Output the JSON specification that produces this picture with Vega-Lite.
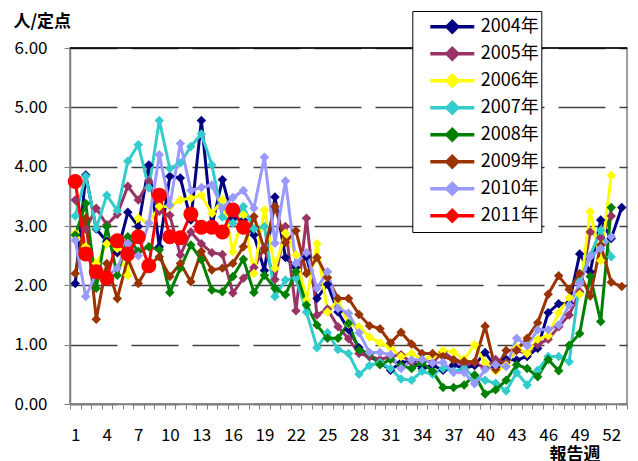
{
  "$schema": "https://vega.github.io/schema/vega-lite/v6.json",
  "width": 557,
  "height": 356,
  "autosize": {"type": "none"},
  "padding": {"left": 70, "top": 48, "right": 11, "bottom": 57},
  "background": "white",
  "config": {
    "view": {"stroke": "#808080", "strokeWidth": 1.5},
    "font": "Noto Sans CJK JP"
  },
  "title": {"text": "水痘", "fontSize": 24, "font": "Noto Sans CJK JP", "fontWeight": "normal", "offset": 34, "dx": -7, "color": "black"},
  "datasets": {
    "weeks": [
      {"w": 1, "y2004": 2.03, "y2005": 3.44, "y2006": 2.88, "y2007": 3.17, "y2008": 2.85, "y2009": 2.2, "y2010": 2.76, "y2011": 3.75},
      {"w": 2, "y2004": 3.86, "y2005": 2.95, "y2006": 2.65, "y2007": 3.84, "y2008": 3.38, "y2009": 3.13, "y2010": 1.81, "y2011": 2.53},
      {"w": 3, "y2004": 2.95, "y2005": 3.3, "y2006": 2.37, "y2007": 2.96, "y2008": 1.95, "y2009": 1.43, "y2010": 2.2, "y2011": 2.23},
      {"w": 4, "y2004": 2.74, "y2005": 3.02, "y2006": 2.7, "y2007": 3.52, "y2008": 2.99, "y2009": 2.37, "y2010": 2.15, "y2011": 2.12},
      {"w": 5, "y2004": 2.55, "y2005": 3.2, "y2006": 2.62, "y2007": 3.26, "y2008": 2.17, "y2009": 1.78, "y2010": 2.29, "y2011": 2.75},
      {"w": 6, "y2004": 3.23, "y2005": 3.67, "y2006": 2.17, "y2007": 4.09, "y2008": 2.82, "y2009": 2.45, "y2010": 2.71, "y2011": 2.53},
      {"w": 7, "y2004": 2.99, "y2005": 3.44, "y2006": 3.13, "y2007": 4.37, "y2008": 2.57, "y2009": 2.03, "y2010": 2.5, "y2011": 2.82},
      {"w": 8, "y2004": 4.03, "y2005": 3.75, "y2006": 3.05, "y2007": 3.64, "y2008": 2.65, "y2009": 2.34, "y2010": 3.05, "y2011": 2.33},
      {"w": 9, "y2004": 2.65, "y2005": 3.25, "y2006": 3.33, "y2007": 4.78, "y2008": 2.6, "y2009": 2.48, "y2010": 4.2, "y2011": 3.52},
      {"w": 10, "y2004": 3.84, "y2005": 3.18, "y2006": 3.33, "y2007": 3.97, "y2008": 1.88, "y2009": 2.15, "y2010": 3.35, "y2011": 2.82},
      {"w": 11, "y2004": 3.81, "y2005": 2.51, "y2006": 3.44, "y2007": 4.06, "y2008": 2.29, "y2009": 2.37, "y2010": 4.39, "y2011": 2.8},
      {"w": 12, "y2004": 3.1, "y2005": 2.9, "y2006": 3.47, "y2007": 4.34, "y2008": 2.68, "y2009": 2.06, "y2010": 3.6, "y2011": 3.2},
      {"w": 13, "y2004": 4.78, "y2005": 2.7, "y2006": 3.52, "y2007": 4.55, "y2008": 2.43, "y2009": 2.57, "y2010": 3.65, "y2011": 2.98},
      {"w": 14, "y2004": 3.0, "y2005": 2.55, "y2006": 3.21, "y2007": 4.03, "y2008": 1.92, "y2009": 2.26, "y2010": 3.69, "y2011": 2.98},
      {"w": 15, "y2004": 3.78, "y2005": 2.52, "y2006": 3.44, "y2007": 3.15, "y2008": 1.89, "y2009": 2.29, "y2010": 3.3, "y2011": 2.9},
      {"w": 16, "y2004": 3.13, "y2005": 1.87, "y2006": 2.57, "y2007": 3.05, "y2008": 2.15, "y2009": 2.37, "y2010": 3.48, "y2011": 3.27},
      {"w": 17, "y2004": 3.1, "y2005": 2.12, "y2006": 3.19, "y2007": 3.33, "y2008": 2.44, "y2009": 2.65, "y2010": 3.6, "y2011": 2.98},
      {"w": 18, "y2004": 2.85, "y2005": 2.3, "y2006": 2.2, "y2007": 2.95, "y2008": 1.88, "y2009": 3.16, "y2010": 3.3},
      {"w": 19, "y2004": 2.25, "y2005": 2.63, "y2006": 3.27, "y2007": 2.99, "y2008": 2.17, "y2009": 2.6, "y2010": 4.16},
      {"w": 20, "y2004": 3.49, "y2005": 2.1, "y2006": 2.29, "y2007": 1.81, "y2008": 1.95, "y2009": 3.33, "y2010": 2.71},
      {"w": 21, "y2004": 2.47, "y2005": 2.99, "y2006": 2.88, "y2007": 2.09, "y2008": 1.84, "y2009": 2.72, "y2010": 3.76},
      {"w": 22, "y2004": 2.3, "y2005": 1.57, "y2006": 2.51, "y2007": 2.12, "y2008": 2.23, "y2009": 2.92, "y2010": 2.37},
      {"w": 23, "y2004": 2.48, "y2005": 3.13, "y2006": 1.75, "y2007": 1.55, "y2008": 1.67, "y2009": 2.2, "y2010": 2.55},
      {"w": 24, "y2004": 1.78, "y2005": 1.5, "y2006": 2.7, "y2007": 0.95, "y2008": 1.33, "y2009": 2.47, "y2010": 1.95},
      {"w": 25, "y2004": 2.02, "y2005": 1.6, "y2006": 1.55, "y2007": 1.2, "y2008": 1.11, "y2009": 2.13, "y2010": 2.23},
      {"w": 26, "y2004": 1.55, "y2005": 1.3, "y2006": 1.75, "y2007": 0.92, "y2008": 1.11, "y2009": 1.78, "y2010": 1.61},
      {"w": 27, "y2004": 1.25, "y2005": 1.1, "y2006": 1.35, "y2007": 0.85, "y2008": 1.36, "y2009": 1.78, "y2010": 1.53},
      {"w": 28, "y2004": 0.95, "y2005": 0.85, "y2006": 1.3, "y2007": 0.5, "y2008": 0.91, "y2009": 1.51, "y2010": 1.2},
      {"w": 29, "y2004": 0.8, "y2005": 0.8, "y2006": 1.13, "y2007": 0.65, "y2008": 0.85, "y2009": 1.32, "y2010": 0.87},
      {"w": 30, "y2004": 0.7, "y2005": 0.75, "y2006": 1.03, "y2007": 0.7, "y2008": 0.66, "y2009": 1.27, "y2010": 0.87},
      {"w": 31, "y2004": 0.57, "y2005": 0.8, "y2006": 0.95, "y2007": 0.6, "y2008": 0.75, "y2009": 1.03, "y2010": 0.83},
      {"w": 32, "y2004": 0.7, "y2005": 0.83, "y2006": 0.8, "y2007": 0.42, "y2008": 0.65, "y2009": 1.21, "y2010": 0.6},
      {"w": 33, "y2004": 0.72, "y2005": 0.7, "y2006": 0.85, "y2007": 0.4, "y2008": 0.6, "y2009": 1.01, "y2010": 0.74},
      {"w": 34, "y2004": 0.6, "y2005": 0.75, "y2006": 0.75, "y2007": 0.55, "y2008": 0.7, "y2009": 0.85, "y2010": 0.75},
      {"w": 35, "y2004": 0.65, "y2005": 0.7, "y2006": 0.8, "y2007": 0.5, "y2008": 0.55, "y2009": 0.85, "y2010": 0.69},
      {"w": 36, "y2004": 0.57, "y2005": 0.88, "y2006": 0.9, "y2007": 0.6, "y2008": 0.28, "y2009": 0.8, "y2010": 0.7},
      {"w": 37, "y2004": 0.66, "y2005": 0.75, "y2006": 0.88, "y2007": 0.55, "y2008": 0.28, "y2009": 0.74, "y2010": 0.53},
      {"w": 38, "y2004": 0.6, "y2005": 0.65, "y2006": 0.75, "y2007": 0.6, "y2008": 0.32, "y2009": 0.72, "y2010": 0.53},
      {"w": 39, "y2004": 0.65, "y2005": 0.7, "y2006": 1.0, "y2007": 0.45, "y2008": 0.49, "y2009": 0.71, "y2010": 0.34},
      {"w": 40, "y2004": 0.87, "y2005": 0.6, "y2006": 0.7, "y2007": 0.4, "y2008": 0.17, "y2009": 1.31, "y2010": 0.58},
      {"w": 41, "y2004": 0.62, "y2005": 0.75, "y2006": 0.55, "y2007": 0.35, "y2008": 0.24, "y2009": 0.58, "y2010": 0.66},
      {"w": 42, "y2004": 0.75, "y2005": 0.7, "y2006": 0.65, "y2007": 0.22, "y2008": 0.4, "y2009": 0.9, "y2010": 0.63},
      {"w": 43, "y2004": 0.74, "y2005": 0.9, "y2006": 0.95, "y2007": 0.53, "y2008": 0.66, "y2009": 0.91, "y2010": 1.11},
      {"w": 44, "y2004": 0.8, "y2005": 0.85, "y2006": 0.85, "y2007": 0.32, "y2008": 0.6, "y2009": 1.11, "y2010": 0.98},
      {"w": 45, "y2004": 0.94, "y2005": 1.0, "y2006": 1.09, "y2007": 0.57, "y2008": 0.46, "y2009": 1.37, "y2010": 1.25},
      {"w": 46, "y2004": 1.54, "y2005": 1.09, "y2006": 1.15, "y2007": 0.8, "y2008": 0.75, "y2009": 1.85, "y2010": 1.25},
      {"w": 47, "y2004": 1.69, "y2005": 1.3, "y2006": 1.54, "y2007": 0.8, "y2008": 0.56, "y2009": 2.16, "y2010": 1.33},
      {"w": 48, "y2004": 1.7, "y2005": 1.5, "y2006": 1.79, "y2007": 0.71, "y2008": 0.99, "y2009": 1.93, "y2010": 1.67},
      {"w": 49, "y2004": 2.53, "y2005": 1.89, "y2006": 1.85, "y2007": 2.07, "y2008": 1.19, "y2009": 2.2, "y2010": 2.03},
      {"w": 50, "y2004": 2.23, "y2005": 2.9, "y2006": 3.24, "y2007": 2.5, "y2008": 2.15, "y2009": 1.82, "y2010": 2.48},
      {"w": 51, "y2004": 3.1, "y2005": 2.8, "y2006": 2.42, "y2007": 2.93, "y2008": 1.39, "y2009": 2.68, "y2010": 2.62},
      {"w": 52, "y2004": 2.79, "y2005": 3.17, "y2006": 3.85, "y2007": 2.48, "y2008": 3.31, "y2009": 2.05, "y2010": 2.82},
      {"w": 53, "y2004": 3.31, "y2009": 1.98}
    ],
    "top": [{"v": 6}]
  },
  "layer": [
    {
      "data": {"name": "weeks"},
      "transform": [
        {"fold": ["y2004", "y2005", "y2006", "y2007", "y2008", "y2009", "y2010", "y2011"], "as": ["year", "v"]},
        {"filter": "isValid(datum.v)"}
      ],
      "mark": {"type": "line", "strokeWidth": 3},
      "encoding": {
        "x": {
          "field": "w",
          "type": "quantitative",
          "scale": {"domain": [0.5, 53.5], "nice": false, "zero": false},
          "axis": {
            "orient": "bottom",
            "values": [0.5, 1.5, 2.5, 3.5, 4.5, 5.5, 6.5, 7.5, 8.5, 9.5, 10.5, 11.5, 12.5, 13.5, 14.5, 15.5, 16.5, 17.5, 18.5, 19.5, 20.5, 21.5, 22.5, 23.5, 24.5, 25.5, 26.5, 27.5, 28.5, 29.5, 30.5, 31.5, 32.5, 33.5, 34.5, 35.5, 36.5, 37.5, 38.5, 39.5, 40.5, 41.5, 42.5, 43.5, 44.5, 45.5, 46.5, 47.5, 48.5, 49.5, 50.5, 51.5, 52.5, 53.5],
            "labels": false,
            "grid": false,
            "domainColor": "#808080",
            "domainWidth": 1.5,
            "tickColor": "#808080",
            "tickSize": 5,
            "title": null
          }
        },
        "y": {
          "field": "v",
          "type": "quantitative",
          "scale": {"domain": [0, 6], "nice": false},
          "axis": {
            "values": [0, 1, 2, 3, 4, 5, 6],
            "format": ".2f",
            "grid": true,
            "gridDash": [47, 14],
            "gridColor": "#404040",
            "gridWidth": 1.5,
            "domainColor": "#808080",
            "domainWidth": 1.5,
            "tickColor": "#808080",
            "tickSize": 6,
            "labelFontSize": 17,
            "labelFont": "Noto Sans CJK JP",
            "labelColor": "black",
            "labelPadding": 17,
            "title": "人/定点",
            "titleFont": "Noto Sans CJK JP",
            "titleFontSize": 17,
            "titleFontWeight": "bold",
            "titleColor": "black",
            "titleAngle": 0,
            "titleAlign": "left",
            "titleBaseline": "top",
            "titleX": -57,
            "titleY": -35
          }
        },
        "color": {
          "field": "year",
          "type": "nominal",
          "scale": {
            "domain": ["y2004", "y2005", "y2006", "y2007", "y2008", "y2009", "y2010", "y2011"],
            "range": ["#000080", "#993366", "#FFFF00", "#33CCCC", "#008000", "#993300", "#9999FF", "#FF0000"]
          },
          "legend": {
            "title": null,
            "orient": "none",
            "legendX": 342.3,
            "legendY": -37,
            "fillColor": "white",
            "strokeColor": "black",
            "padding": 2.5,
            "labelFontSize": 18,
            "labelFont": "Noto Sans CJK JP",
            "labelColor": "black",
            "labelExpr": "slice(datum.label, 1) + '年\u00a0\u00a0'",
            "symbolType": "M-1,0H1M0,-0.24L0.24,0L0,0.24L-0.24,0Z",
            "symbolSize": 1936,
            "symbolStrokeWidth": 3.5,
            "clipHeight": 26.3,
            "rowPadding": 0,
            "symbolOffset": 13.5,
            "labelOffset": 4.5,
            "encode": {
              "symbols": {
                "update": {
                  "shape": {"condition": {"test": "datum.value === 'y2011'", "value": "M-1,0H1M0.33,0A0.33,0.33 0 1,1 -0.33,0A0.33,0.33 0 1,1 0.33,0Z"}, "value": "M-1,0H1M0,-0.24L0.24,0L0,0.24L-0.24,0Z"},
                  "size": {"value": 1936},
                  "strokeWidth": {"value": 3.5}
                }
              }
            }
          }
        }
      }
    },
    {
      "data": {"name": "weeks"},
      "transform": [
        {"fold": ["y2004", "y2005", "y2006", "y2007", "y2008", "y2009", "y2010", "y2011"], "as": ["year", "v"]},
        {"filter": "isValid(datum.v)"}
      ],
      "mark": {"type": "point", "filled": true, "opacity": 1},
      "encoding": {
        "x": {
          "field": "w",
          "type": "quantitative",
          "axis": {
            "orient": "bottom",
            "values": [1, 4, 7, 10, 13, 16, 19, 22, 25, 28, 31, 34, 37, 40, 43, 46, 49, 52],
            "format": "d",
            "ticks": false,
            "tickSize": 0,
            "domain": false,
            "grid": false,
            "labelFontSize": 17,
            "labelFont": "Noto Sans CJK JP",
            "labelColor": "black",
            "labelPadding": 23,
            "labelOverlap": false,
            "labelFlush": false,
            "labelBound": false,
            "title": "報告週",
            "titleFont": "Noto Sans CJK JP",
            "titleFontSize": 17,
            "titleFontWeight": "bold",
            "titleColor": "black",
            "titleAlign": "right",
            "titleBaseline": "top",
            "titleX": 530,
            "titleY": 42
          }
        },
        "y": {"field": "v", "type": "quantitative"},
        "color": {
          "field": "year",
          "type": "nominal",
          "legend": {
            "title": null,
            "orient": "none",
            "legendX": 342.3,
            "legendY": -37,
            "fillColor": "white",
            "strokeColor": "black",
            "padding": 2.5,
            "labelFontSize": 18,
            "labelFont": "Noto Sans CJK JP",
            "labelColor": "black",
            "labelExpr": "slice(datum.label, 1) + '年\u00a0\u00a0'",
            "symbolType": "M-1,0H1M0,-0.24L0.24,0L0,0.24L-0.24,0Z",
            "symbolSize": 1936,
            "symbolStrokeWidth": 3.5,
            "clipHeight": 26.3,
            "rowPadding": 0,
            "symbolOffset": 13.5,
            "labelOffset": 4.5,
            "encode": {
              "symbols": {
                "update": {
                  "shape": {"condition": {"test": "datum.value === 'y2011'", "value": "M-1,0H1M0.33,0A0.33,0.33 0 1,1 -0.33,0A0.33,0.33 0 1,1 0.33,0Z"}, "value": "M-1,0H1M0,-0.24L0.24,0L0,0.24L-0.24,0Z"},
                  "size": {"value": 1936},
                  "strokeWidth": {"value": 3.5}
                }
              }
            }
          }
        },
        "shape": {"condition": {"test": "datum.year === 'y2011'", "value": "circle"}, "value": "diamond"},
        "size": {"condition": {"test": "datum.year === 'y2011'", "value": 225}, "value": 90}
      }
    },
    {
      "data": {"name": "top"},
      "mark": {"type": "rule", "color": "black", "strokeWidth": 1.5},
      "encoding": {"y": {"field": "v", "type": "quantitative"}}
    }
  ],
  "resolve": {"axis": {"x": "independent"}}
}
